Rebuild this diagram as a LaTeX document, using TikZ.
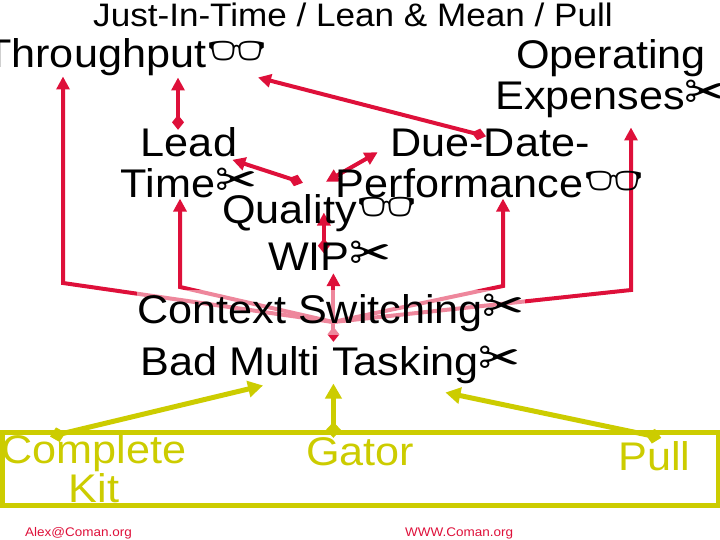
\documentclass[tikz,border=0pt]{standalone}
\usepackage{fontspec}
\setmainfont{Liberation Sans}[FakeStretch=1.08]
\newfontfamily\emojifont{Noto Emoji}
\newfontfamily\dingfont{DejaVu Sans}
\usetikzlibrary{arrows.meta,positioning,calc,backgrounds}

\definecolor{linkred}{RGB}{222,16,58}
\definecolor{kitolive}{RGB}{204,204,0}

\newcommand{\eyeglyph}{\smash{{\emojifont\fontsize{48}{48}\selectfont 👓}}}
\newcommand{\cutglyph}{\smash{{\dingfont\fontsize{50}{50}\selectfont ✂}}}

\begin{document}
\begin{tikzpicture}[x=1pt, y=-1pt,
    every node/.style={inner sep=0pt},
    big/.style={font=\fontsize{40}{41}\selectfont, align=center},
    headline/.style={font=\fontsize{32.5}{34}\selectfont},
    kit/.style={font=\fontsize{40}{34}\selectfont, align=center, text=kitolive},
    weblink/.style={font=\fontsize{12.5}{14}\selectfont, text=linkred},
    redlink/.style={draw=linkred, line width=4pt, {Diamond[width=12pt,length=15pt]}-{Triangle[width=13pt,length=13pt]}},
    twolink/.style={draw=linkred, line width=4pt, {Triangle[width=13pt,length=13pt]}-{Triangle[width=13pt,length=13pt]}},
    elbow/.style={draw=linkred, line width=4pt, -{Triangle[width=13pt,length=13pt]}},
    kitlink/.style={draw=kitolive, line width=5pt, {Diamond[width=15pt,length=16pt]}-{Triangle[width=16pt,length=15pt]}}
]
\useasboundingbox (0,0) rectangle (720,540);

% Nodes
\node[headline, anchor=base west] (head) at (93,27) {Just-In-Time / Lean \& Mean / Pull};
\node[big, anchor=base west] (thru) at (-15,68) {Throughput\eyeglyph};
\node[big, anchor=base] (opex) at (611,110) {Operating\\Expenses\cutglyph};
\node[big, anchor=base] (lead) at (189,198) {Lead\\Time\cutglyph};
\node[big, anchor=base] (due) at (490,198) {Due-Date-\\Performance\eyeglyph};
\node[big, anchor=base west] (qual) at (222,223) {Quality\eyeglyph};
\node[big, anchor=base west] (wip) at (268,270) {WIP\cutglyph};
\node[big, anchor=base west, fill=white, fill opacity=0.5, text opacity=1, inner ysep=4pt] (ctx) at (137,323) {Context Switching\cutglyph};
\node[big, anchor=base west] (bmt) at (140,375) {Bad Multi Tasking\cutglyph};

\node[kit, anchor=base] (kit) at (94,502) {Complete\\Kit};
\node[kit, anchor=base west] (gator) at (306,465) {Gator};
\node[kit, anchor=base west] (pull) at (618,470) {Pull};

\node[weblink, anchor=base west] (mail) at (25,536) {\underline{Alex@Coman.org}};
\node[weblink, anchor=base west] (web) at (405,536) {\underline{WWW.Coman.org}};

\coordinate (hub) at (333,322);
\coordinate (bendA) at (63,283);
\coordinate (bendB) at (180,287);
\coordinate (bendC) at (503,286);
\coordinate (bendD) at (631,290);

% Edges
\begin{scope}[on background layer]
\draw[redlink] ($(lead.north)+(-11,2)$) -- ($(thru.south west)+(193,1)$);
\draw[redlink] ($(due.north)+(-4,7)$) -- ($(thru.south west)+(273,1)$);
\draw[redlink] ($(qual.north)+(-17,-11)$) -- ($(lead.north east)+(-25,32)$);
\draw[twolink] ($(qual.north)+(6,-12)$) -- ($(due.north west)+(42,23)$);
\draw[redlink] ($(wip.north -| qual.south)+(4,11)$) -- ($(qual.south)+(4,-19)$);
\draw[redlink] ($(bmt.north)+(3,-4)$) -- ($(wip.south -| bmt.north)+(3,3)$);

\draw[elbow] (hub) -- (bendA) -- (bendA |- thru.south);
\draw[elbow] (hub) -- (bendB) -- (bendB |- lead.south);
\draw[elbow] (hub) -- (bendC) -- (bendC |- due.south);
\draw[elbow, shorten >=9pt] (hub) -- (bendD) -- (bendD |- opex.south);

\draw[kitlink] ($(kit.north)+(-44,2)$) -- ($(bmt.south west)+(123,2)$);
\draw[kitlink] ($(gator.north -| bmt.south)+(3,1)$) -- ($(bmt.south)+(3,0)$);
\draw[kitlink] ($(pull.north)+(7,-3)$) -- ($(bmt.south)+(115,9)$);
\end{scope}

\draw[kitolive, line width=5pt] (2,432) rectangle (718,505);

\end{tikzpicture}
\end{document}
